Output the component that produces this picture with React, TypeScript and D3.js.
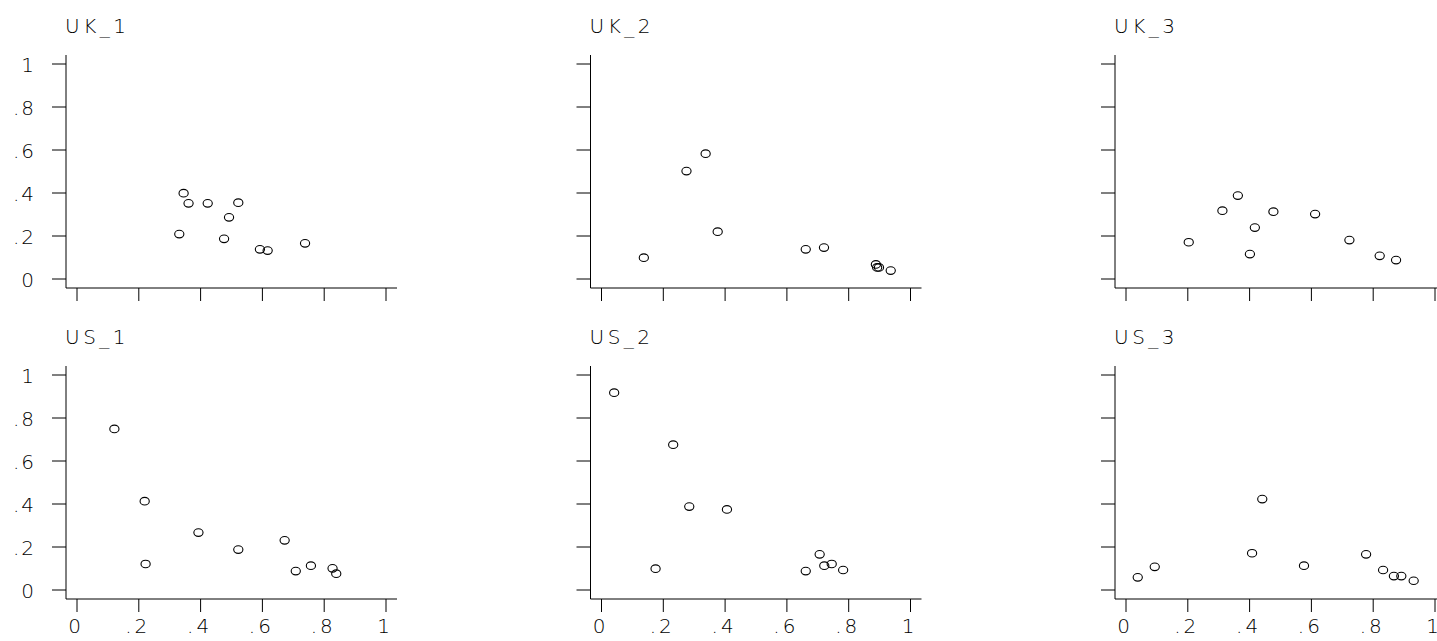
import React from "react";
import * as d3 from "d3";

// panel titles, in reading order
const panels = ["UK_1", "UK_2", "UK_3", "US_1", "US_2", "US_3"];

// x and y values per panel
const uk1X = [0.345, 0.361, 0.423, 0.522, 0.492, 0.331, 0.476, 0.592, 0.617, 0.738];
const uk1Y = [0.399, 0.352, 0.352, 0.355, 0.287, 0.209, 0.187, 0.138, 0.132, 0.166];

const uk2X = [0.337, 0.275, 0.376, 0.137, 0.661, 0.72, 0.888, 0.892, 0.898, 0.936];
const uk2Y = [0.583, 0.502, 0.22, 0.099, 0.138, 0.146, 0.068, 0.054, 0.054, 0.039];

const uk3X = [0.362, 0.312, 0.477, 0.612, 0.417, 0.203, 0.401, 0.723, 0.821, 0.874];
const uk3Y = [0.388, 0.318, 0.313, 0.302, 0.239, 0.171, 0.116, 0.181, 0.108, 0.088];

const us1X = [0.121, 0.219, 0.222, 0.393, 0.522, 0.672, 0.708, 0.757, 0.827, 0.839];
const us1Y = [0.749, 0.413, 0.121, 0.267, 0.188, 0.231, 0.088, 0.113, 0.101, 0.076];

const us2X = [0.041, 0.232, 0.284, 0.406, 0.175, 0.661, 0.706, 0.721, 0.745, 0.782];
const us2Y = [0.918, 0.676, 0.388, 0.375, 0.099, 0.088, 0.166, 0.113, 0.121, 0.093];

const us3X = [0.038, 0.093, 0.441, 0.408, 0.576, 0.777, 0.832, 0.867, 0.891, 0.931];
const us3Y = [0.059, 0.108, 0.423, 0.171, 0.113, 0.166, 0.093, 0.065, 0.065, 0.043];

const xs = [uk1X, uk2X, uk3X, us1X, us2X, us3X];
const ys = [uk1Y, uk2Y, uk3Y, us1Y, us2Y, us3Y];

const ticks = [0, 0.2, 0.4, 0.6, 0.8, 1];
const tickLabels = ["0", ".2", ".4", ".6", ".8", "1"];

const W = 1437;
const H = 641;
const colX0 = [77, 601.5, 1126];
const rowY0 = [279, 590];
const plotW = 309;
const plotH = 215;
const ink = "#000";
const font = "'DejaVu Sans', sans-serif";

const Panel = ({ i }: { i: number }) => {
  const col = i % 3;
  const row = Math.floor(i / 3);
  const x0 = colX0[col];
  const y0 = rowY0[row];
  const x = d3.scaleLinear().domain([0, 1]).range([x0, x0 + plotW]);
  const y = d3.scaleLinear().domain([0, 1]).range([y0, y0 - plotH]);
  const axX = x0 - 11;
  const axY = y0 + 9;
  const pts = d3.zip(xs[i], ys[i]);

  return (
    <g>
      <text
        x={axX - 1}
        y={y(1) - 31}
        fontFamily={font}
        fontWeight={200}
        fontSize={20}
        letterSpacing={3.5}
        fill={ink}
      >
        {panels[i]}
      </text>
      {/* y axis */}
      <line x1={axX} x2={axX} y1={y(1) - 9} y2={axY} stroke={ink} strokeWidth={1} />
      {ticks.map((t) => (
        <line key={"yt" + t} x1={axX - 14} x2={axX} y1={y(t)} y2={y(t)} stroke={ink} strokeWidth={1} />
      ))}
      {col === 0 &&
        ticks.map((t, k) => (
          <text
            key={"yl" + t}
            x={axX - 30}
            y={y(t) + 1}
            textAnchor="end"
            dominantBaseline="central"
            fontFamily={font}
            fontWeight={200}
            fontSize={20}
            letterSpacing={2}
            fill={ink}
          >
            {tickLabels[k]}
          </text>
        ))}
      {/* x axis */}
      <line x1={axX} x2={x(1) + 11} y1={axY} y2={axY} stroke={ink} strokeWidth={1} />
      {ticks.map((t) => (
        <line key={"xt" + t} x1={x(t)} x2={x(t)} y1={axY} y2={axY + 13} stroke={ink} strokeWidth={1} />
      ))}
      {row === 1 &&
        ticks.map((t, k) => (
          <text
            key={"xl" + t}
            x={x(t) - 1}
            y={axY + 27}
            textAnchor="middle"
            dominantBaseline="central"
            fontFamily={font}
            fontWeight={200}
            fontSize={20}
            letterSpacing={3}
            fill={ink}
          >
            {tickLabels[k]}
          </text>
        ))}
      {pts.map(([vx, vy], k) => (
        <ellipse
          key={k}
          cx={x(vx)}
          cy={y(vy)}
          rx={4.6}
          ry={3.8}
          fill="none"
          stroke={ink}
          strokeWidth={1.1}
        />
      ))}
    </g>
  );
};

export default function App() {
  return (
    <svg
      width={W}
      height={H}
      style={{ position: "absolute", left: 0, top: 0, background: "#fff" }}
    >
      <rect width={W} height={H} fill="#fff" />
      {panels.map((_, i) => (
        <Panel key={i} i={i} />
      ))}
    </svg>
  );
}
